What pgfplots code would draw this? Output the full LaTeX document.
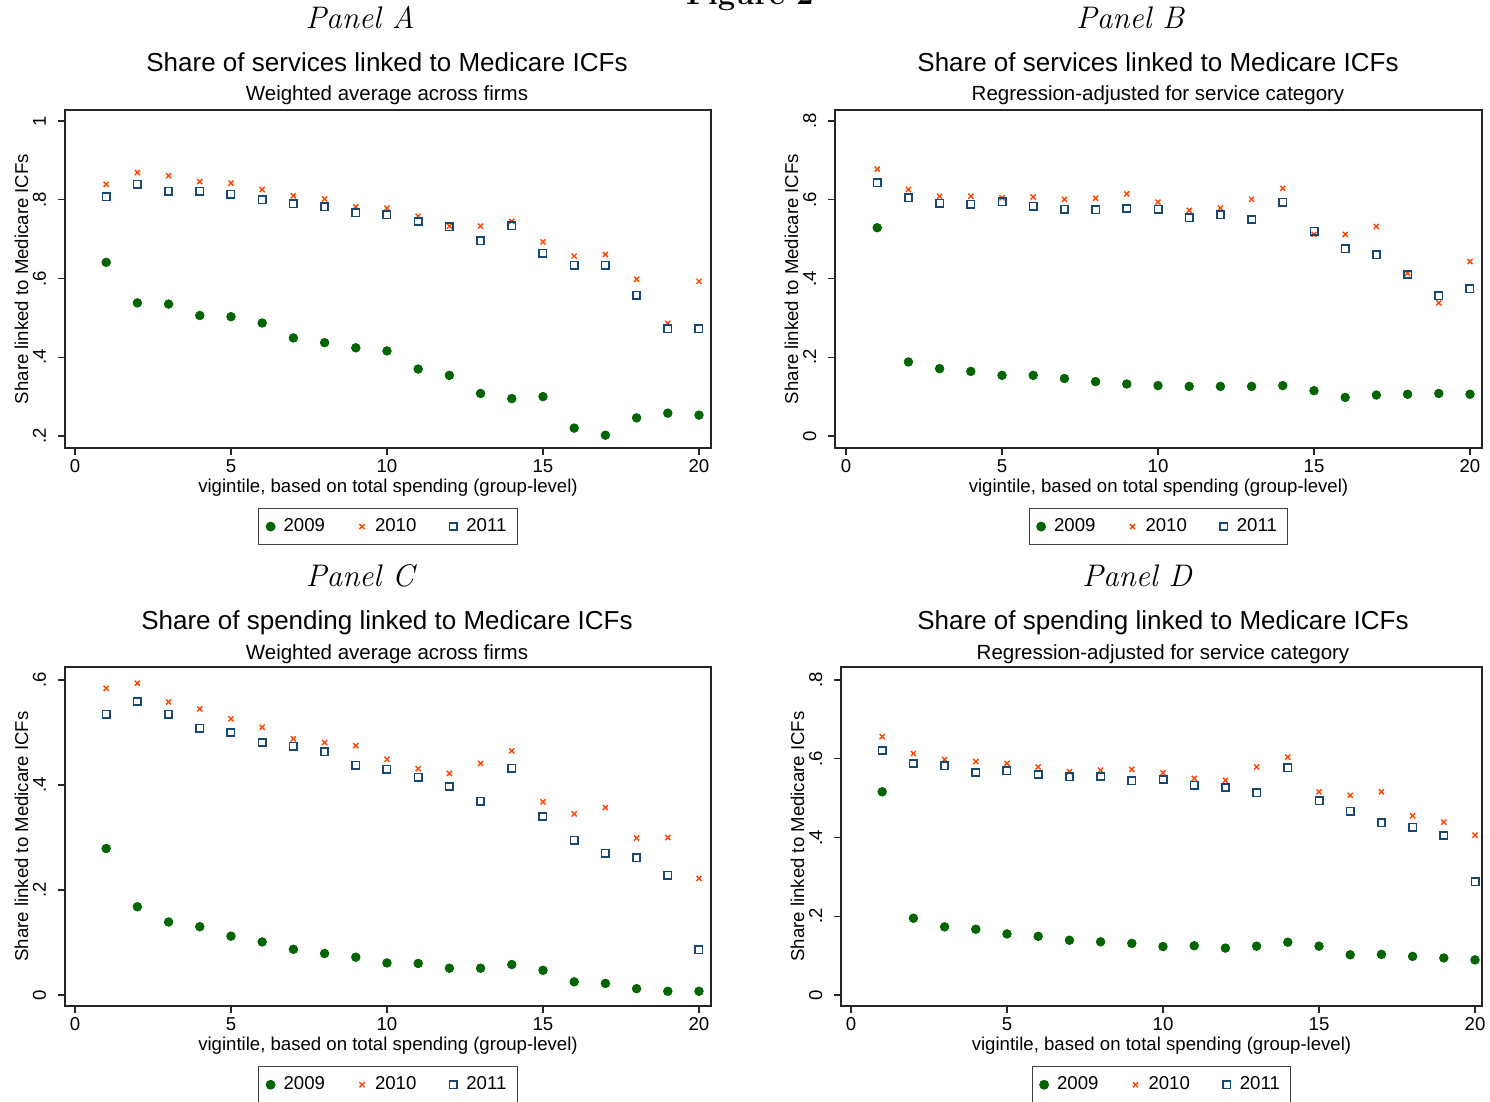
\documentclass[border=0pt]{standalone}
\usepackage{fontspec}
\usepackage{pgfplots}
\pgfplotsset{compat=1.18}
\usepackage{pgfplotstable}
\newfontfamily\arial{Liberation Sans}
\newcommand\lab{\arial\fontsize{9.3}{11}\selectfont}
\newcommand\ttl{\arial\fontsize{13}{15}\selectfont}
\newcommand\sttl{\arial\fontsize{10.25}{12}\selectfont}
\newcommand\pnl{\fontsize{15.6}{17}\selectfont\itshape}
\definecolor{dkgreen}{RGB}{0,100,0}
\definecolor{orgred}{RGB}{255,69,0}
\definecolor{sqblue}{RGB}{26,71,111}

\pgfplotstableread{
x y09 y10 y11
1 0.641 0.839 0.807
2 0.538 0.869 0.839
3 0.535 0.861 0.822
4 0.506 0.846 0.822
5 0.503 0.842 0.814
6 0.487 0.826 0.800
7 0.449 0.810 0.790
8 0.437 0.802 0.782
9 0.424 0.782 0.767
10 0.416 0.779 0.762
11 0.370 0.758 0.745
12 0.354 0.733 0.731
13 0.308 0.733 0.696
14 0.295 0.745 0.734
15 0.300 0.693 0.664
16 0.220 0.657 0.634
17 0.202 0.661 0.634
18 0.246 0.598 0.558
19 0.258 0.486 0.472
20 0.253 0.593 0.472
}\tabA

\pgfplotstableread{
x y09 y10 y11
1 0.529 0.678 0.643
2 0.188 0.626 0.605
3 0.171 0.609 0.591
4 0.164 0.609 0.589
5 0.154 0.605 0.595
6 0.154 0.607 0.584
7 0.146 0.601 0.576
8 0.138 0.604 0.574
9 0.132 0.615 0.578
10 0.128 0.594 0.576
11 0.126 0.573 0.554
12 0.126 0.579 0.562
13 0.126 0.601 0.550
14 0.128 0.629 0.594
15 0.115 0.512 0.520
16 0.098 0.512 0.475
17 0.104 0.532 0.460
18 0.106 0.413 0.410
19 0.108 0.338 0.356
20 0.106 0.443 0.374
}\tabB

\pgfplotstableread{
x y09 y10 y11
1 0.279 0.584 0.535
2 0.168 0.594 0.559
3 0.139 0.558 0.535
4 0.130 0.545 0.508
5 0.112 0.526 0.500
6 0.101 0.510 0.481
7 0.087 0.488 0.474
8 0.079 0.481 0.463
9 0.072 0.475 0.438
10 0.061 0.449 0.430
11 0.060 0.431 0.415
12 0.051 0.422 0.397
13 0.051 0.441 0.369
14 0.058 0.465 0.432
15 0.047 0.368 0.340
16 0.025 0.345 0.295
17 0.022 0.357 0.270
18 0.012 0.299 0.261
19 0.007 0.300 0.228
20 0.007 0.222 0.086
}\tabC

\pgfplotstableread{
x y09 y10 y11
1 0.516 0.656 0.621
2 0.195 0.613 0.588
3 0.173 0.598 0.582
4 0.167 0.593 0.565
5 0.155 0.588 0.569
6 0.149 0.579 0.560
7 0.139 0.567 0.554
8 0.135 0.571 0.555
9 0.131 0.573 0.544
10 0.123 0.564 0.547
11 0.125 0.550 0.533
12 0.119 0.545 0.527
13 0.124 0.579 0.513
14 0.134 0.604 0.577
15 0.124 0.516 0.493
16 0.102 0.507 0.467
17 0.103 0.516 0.437
18 0.098 0.455 0.426
19 0.094 0.439 0.405
20 0.089 0.406 0.287
}\tabD

\pgfplotsset{
  panel/.style={
    scale only axis, anchor=south west,
    axis line style={black!85, line width=0.7pt},
    tick align=outside, tick pos=left, major tick length=3.5pt,
    tick style={black!85, line width=0.6pt},
    xtick={0,5,10,15,20}, xticklabels={0,5,10,15,20},
    /pgf/number format/assume math mode=true,
    xticklabel style={font=\lab, anchor=base, yshift=-9pt},
    yticklabel style={font=\lab, xshift=-6pt, rotate=90, anchor=base},
    xlabel={vigintile, based on total spending (group-level)},
    ylabel={Share linked to Medicare ICFs},
    every axis x label/.style={at={(axis description cs:0.5,0)}, yshift=-22.5pt, anchor=base, font=\lab},
    every axis y label/.style={at={(axis description cs:0,0.5)}, xshift=-18.5pt, rotate=90, anchor=base, font=\lab},
    legend columns=3,
    legend style={at={(0.5,-0.1775)}, anchor=north, draw=black!75, line width=0.6pt,
      font=\lab, inner xsep=3.5pt, inner ysep=3pt,
      /tikz/every even column/.append style={column sep=14pt}},
    legend image code/.code={\path[draw=none, fill=none] (0pt,-2pt) rectangle (7pt,2pt);
      \draw[mark repeat=2, mark phase=2, #1] plot coordinates {(0pt,0pt) (2.5pt,0pt) (5pt,0pt)};},
  },
  s09/.style={only marks, mark=*, mark size=2.15pt, color=dkgreen},
  s10/.style={only marks, mark=x, mark size=1.8pt, color=orgred, mark options={line width=0.7pt}},
  s11/.style={only marks, mark=square, mark size=1.85pt, color=sqblue, mark options={line width=0.8pt}},
}

\begin{document}
\begin{tikzpicture}
\useasboundingbox (0,0) rectangle (745pt,551pt);

\node[font=\fontsize{15.5}{17}\selectfont\bfseries, anchor=base] at (375pt,548.5pt) {Figure 2};

% Panel A
\node[font=\pnl, anchor=base] at (180pt,536.75pt) {Panel A};
\node[font=\ttl, anchor=base] at (193.5pt,515.25pt) {Share of services linked to Medicare ICFs};
\node[font=\sttl, anchor=base] at (193.5pt,500.5pt) {Weighted average across firms};
\begin{axis}[panel, at={(32.5pt,327pt)}, width=323pt, height=169pt,
  xmin=-0.32, xmax=20.385, ymin=0.1695, ymax=1.028,
  ytick={0.2,0.4,0.6,0.8,1}, yticklabels={.2,.4,.6,.8,1}]
\addplot[s09] table[x=x,y=y09]{\tabA};
\addplot[s10] table[x=x,y=y10]{\tabA};
\addplot[s11] table[x=x,y=y11]{\tabA};
\legend{2009,2010,2011}
\end{axis}

% Panel B
\node[font=\pnl, anchor=base] at (565pt,536.75pt) {Panel B};
\node[font=\ttl, anchor=base] at (579pt,515.25pt) {Share of services linked to Medicare ICFs};
\node[font=\sttl, anchor=base] at (579pt,500.5pt) {Regression-adjusted for service category};
\begin{axis}[panel, at={(417.5pt,327pt)}, width=323.5pt, height=169pt,
  xmin=-0.353, xmax=20.385, ymin=-0.0305, ymax=0.828,
  ytick={0,0.2,0.4,0.6,0.8}, yticklabels={0,.2,.4,.6,.8}]
\addplot[s09] table[x=x,y=y09]{\tabB};
\addplot[s10] table[x=x,y=y10]{\tabB};
\addplot[s11] table[x=x,y=y11]{\tabB};
\legend{2009,2010,2011}
\end{axis}

% Panel C
\node[font=\pnl, anchor=base] at (180pt,257.75pt) {Panel C};
\node[font=\ttl, anchor=base] at (193.5pt,236.25pt) {Share of spending linked to Medicare ICFs};
\node[font=\sttl, anchor=base] at (193.5pt,221pt) {Weighted average across firms};
\begin{axis}[panel, at={(32.5pt,48pt)}, width=323pt, height=169.5pt,
  xmin=-0.32, xmax=20.385, ymin=-0.021, ymax=0.6248,
  ytick={0,0.2,0.4,0.6}, yticklabels={0,.2,.4,.6}]
\addplot[s09] table[x=x,y=y09]{\tabC};
\addplot[s10] table[x=x,y=y10]{\tabC};
\addplot[s11] table[x=x,y=y11]{\tabC};
\legend{2009,2010,2011}
\end{axis}

% Panel D
\node[font=\pnl, anchor=base] at (568.5pt,257.75pt) {Panel D};
\node[font=\ttl, anchor=base] at (581.5pt,236.25pt) {Share of spending linked to Medicare ICFs};
\node[font=\sttl, anchor=base] at (581.5pt,221pt) {Regression-adjusted for service category};
\begin{axis}[panel, at={(420.5pt,48pt)}, width=320.5pt, height=169.5pt,
  xmin=-0.32, xmax=20.224, ymin=-0.028, ymax=0.833,
  ytick={0,0.2,0.4,0.6,0.8}, yticklabels={0,.2,.4,.6,.8}]
\addplot[s09] table[x=x,y=y09]{\tabD};
\addplot[s10] table[x=x,y=y10]{\tabD};
\addplot[s11] table[x=x,y=y11]{\tabD};
\legend{2009,2010,2011}
\end{axis}
\end{tikzpicture}
\end{document}
